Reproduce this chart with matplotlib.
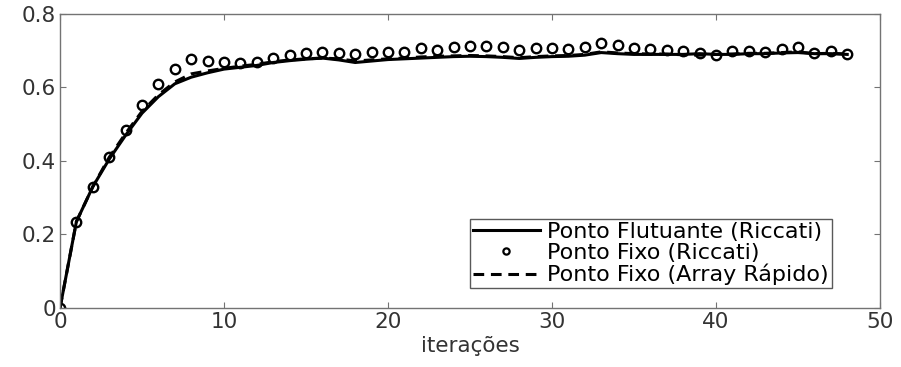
import matplotlib
matplotlib.use("Agg")
import matplotlib.pyplot as plt
import numpy as np

iteracoes = list(range(49))

# Ponto Flutuante (Riccati)
flutuante = [0.0, 0.235, 0.33, 0.405, 0.47, 0.53, 0.575, 0.61, 0.628, 0.64,
             0.65, 0.655, 0.66, 0.668, 0.673, 0.677, 0.68, 0.675, 0.668, 0.672,
             0.676, 0.678, 0.68, 0.682, 0.684, 0.685, 0.684, 0.682, 0.679, 0.682,
             0.684, 0.685, 0.688, 0.695, 0.692, 0.69, 0.69, 0.69, 0.69, 0.692,
             0.69, 0.69, 0.692, 0.692, 0.694, 0.695, 0.692, 0.692, 0.69]

# Ponto Fixo (Riccati)
fixo_riccati = [0.0, 0.235, 0.328, 0.41, 0.484, 0.552, 0.61, 0.65, 0.677, 0.673,
                0.67, 0.666, 0.67, 0.679, 0.688, 0.693, 0.697, 0.695, 0.691, 0.697,
                0.697, 0.697, 0.707, 0.702, 0.709, 0.714, 0.714, 0.711, 0.702, 0.708,
                0.707, 0.704, 0.711, 0.72, 0.716, 0.707, 0.704, 0.702, 0.698, 0.693,
                0.688, 0.7, 0.7, 0.696, 0.705, 0.709, 0.693, 0.7, 0.691]

# Ponto Fixo (Array Rapido)
fixo_array = [0.0, 0.235, 0.33, 0.41, 0.475, 0.535, 0.58, 0.615, 0.637, 0.645,
              0.652, 0.658, 0.663, 0.67, 0.675, 0.678, 0.68, 0.678, 0.672, 0.675,
              0.678, 0.68, 0.683, 0.685, 0.686, 0.687, 0.686, 0.684, 0.681, 0.684,
              0.686, 0.687, 0.69, 0.697, 0.694, 0.692, 0.691, 0.691, 0.689, 0.688,
              0.69, 0.691, 0.693, 0.693, 0.695, 0.697, 0.692, 0.693, 0.691]

xticks = [0, 10, 20, 30, 40, 50]
yticks = [0, 0.2, 0.4, 0.6, 0.8]
ytick_labels = ["0", "0.2", "0.4", "0.6", "0.8"]

plt.rcParams['font.family'] = ['DejaVu Sans']

fig = plt.figure(figsize=(9.01, 3.67), dpi=100)
ax = fig.add_axes([0.0666, 0.1608, 0.9101, 0.8011])

ax.plot(iteracoes, flutuante, color='black', lw=2.2, label='Ponto Flutuante (Riccati)')
ax.plot(iteracoes, fixo_riccati, 'o', ms=6.8, mfc='none', mec='black', mew=1.7,
        label='Ponto Fixo (Riccati)')
ax.plot(iteracoes, fixo_array, color='black', lw=2.2, ls=(0, (3.5, 2.2)),
        label='Ponto Fixo (Array Rápido)')

ax.set_xlim(0, 50)
ax.set_ylim(0, 0.8)
ax.set_xticks(xticks)
ax.set_yticks(yticks)
ax.set_yticklabels(ytick_labels)
ax.tick_params(direction='in', top=True, right=True, length=4, width=0.8,
               color='0.45', labelsize=15.5, labelcolor='0.2', pad=3)
for s in ax.spines.values():
    s.set_color('0.45')
    s.set_linewidth(1.0)
ax.set_xlabel('iterações', fontsize=15.5, color='0.2', labelpad=3)

leg = ax.legend(loc='lower right', bbox_to_anchor=(0.941, 0.068), fontsize=16,
                fancybox=False, framealpha=1, edgecolor='0.35', handlelength=3.0,
                handletextpad=0.35, borderpad=0.12, labelspacing=0.05,
                borderaxespad=0)
leg.get_frame().set_linewidth(1.0)
leg.legend_handles[1].set_markersize(4.5)
leg.legend_handles[1].set_markeredgewidth(1.6)

fig.savefig('out.png', dpi=100)
